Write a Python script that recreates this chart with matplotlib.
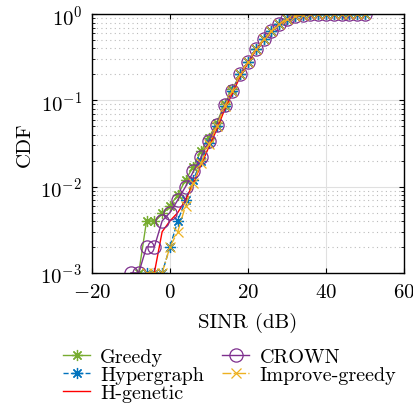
import numpy as np
import matplotlib
matplotlib.use("Agg")
import matplotlib.pyplot as plt

plt.rcParams['font.family'] = 'serif'
plt.rcParams['font.serif'] = ['cmr10']
plt.rcParams['mathtext.fontset'] = 'cm'
plt.rcParams['axes.formatter.use_mathtext'] = True
plt.rcParams['font.size'] = 15

# SINR grid (dB), 2 dB steps
sinr_crown = np.arange(-10, 52, 2)
sinr_greedy = np.arange(-8, 52, 2)
sinr_hyper = np.arange(-6, 52, 2)
sinr_hgen = np.arange(-4, 52, 2)
sinr_impr = np.arange(-6, 52, 2)

cdf_crown = [0.001, 0.001, 0.002, 0.002, 0.004, 0.005, 0.007, 0.010, 0.015, 0.022,
             0.034, 0.052, 0.088, 0.13, 0.20, 0.28, 0.39, 0.51, 0.64, 0.77,
             0.87, 0.94, 0.98, 0.995, 1, 1, 1, 1, 1, 1, 1]
cdf_greedy = [0.001, 0.004, 0.004, 0.005, 0.006, 0.008, 0.012, 0.017, 0.026, 0.037,
              0.055, 0.09, 0.135, 0.20, 0.28, 0.39, 0.51, 0.64, 0.77, 0.87,
              0.94, 0.98, 0.995, 1, 1, 1, 1, 1, 1, 1]
cdf_hyper = [0.001, 0.001, 0.001, 0.002, 0.004, 0.007, 0.012, 0.020, 0.032, 0.050,
             0.085, 0.13, 0.20, 0.28, 0.39, 0.51, 0.64, 0.77, 0.87, 0.94,
             0.98, 0.995, 1, 1, 1, 1, 1, 1, 1]
cdf_hgen = [0.001, 0.003, 0.004, 0.005, 0.007, 0.011, 0.018, 0.029, 0.046, 0.078,
            0.12, 0.19, 0.27, 0.38, 0.50, 0.63, 0.76, 0.86, 0.94, 0.98,
            0.995, 1, 1, 1, 1, 1, 1, 1]
cdf_impr = [0.001, 0.001, 0.001, 0.002, 0.003, 0.006, 0.011, 0.019, 0.031, 0.050,
            0.085, 0.13, 0.20, 0.28, 0.39, 0.51, 0.64, 0.77, 0.87, 0.94,
            0.98, 0.995, 1, 1, 1, 1, 1, 1, 1]

fig = plt.figure(figsize=(4.14, 4.10), dpi=100)
ax = fig.add_axes([0.222, 0.332, 0.754, 0.631])

star = (8, 2, 0)
ax.plot(sinr_greedy, cdf_greedy, '-', color='#77AC30', marker=star, ms=8, mew=0.9, lw=1, label='Greedy')
ax.plot(sinr_hyper, cdf_hyper, '--', color='#0072BD', marker=star, ms=8, mew=0.9, lw=1, label='Hypergraph')
ax.plot(sinr_hgen, cdf_hgen, '-', color='#FF0000', lw=1, label='H-genetic')
ax.plot(sinr_crown, cdf_crown, '-', color='#7E2F8E', marker='o', ms=9.5, mew=0.9, mfc='none', lw=1, label='CROWN')
ax.plot(sinr_impr, cdf_impr, '-.', color='#EDB120', marker='x', ms=6.5, mew=0.9, lw=1, label='Improve-greedy')

ax.set_yscale('log')
ax.set_xlim(-20, 60)
ax.set_ylim(1e-3, 1)
ax.set_xticks([-20, 0, 20, 40, 60])
ax.set_xlabel('SINR (dB)', labelpad=8)
ax.set_ylabel('CDF', labelpad=5)

ax.grid(True, which='major', color='#e0e0e0', lw=0.8)
ax.grid(True, which='minor', axis='y', color='#bbbbbb', ls=(0, (1, 3)), lw=0.8)
ax.set_axisbelow(True)
ax.tick_params(which='both', direction='in', top=True, right=True)
ax.tick_params(axis='x', which='minor', top=False, bottom=False)
ax.tick_params(axis='x', pad=7)
ax.tick_params(axis='y', pad=7)
for s in ax.spines.values():
    s.set_linewidth(1.0)

handles, labels = ax.get_legend_handles_labels()
fig.legend(handles, labels, loc='upper left', bbox_to_anchor=(0.152, 0.150), ncol=2,
           frameon=False, fontsize=14.5, handlelength=1.35, columnspacing=0.9,
           labelspacing=0.0, handletextpad=0.5, borderpad=0.0, borderaxespad=0.0)

fig.savefig('out.png', dpi=100)
